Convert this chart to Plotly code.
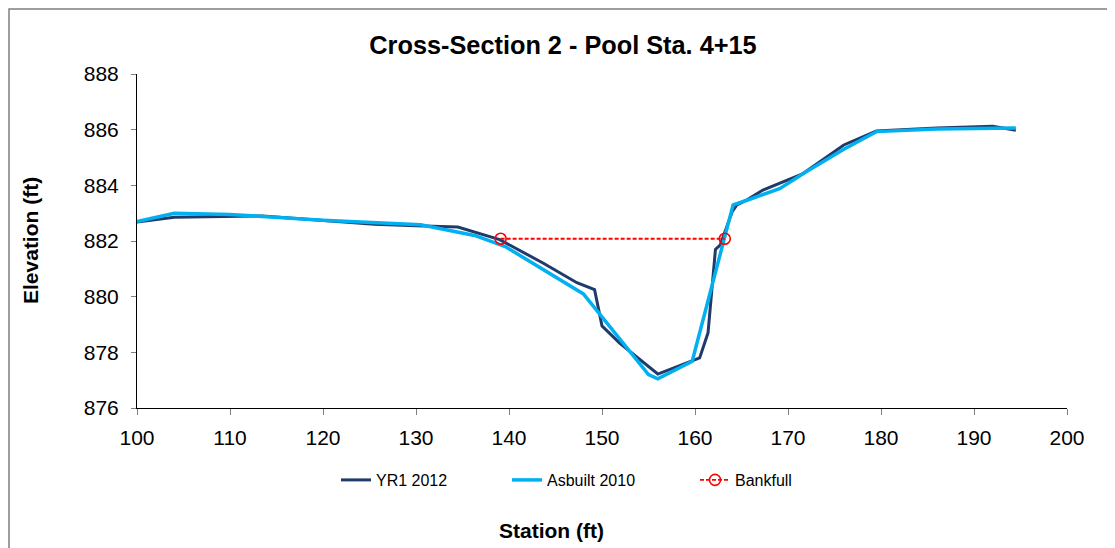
import plotly.graph_objects as go

# station (ft) / elevation (ft)
yr1_station = [100.0, 104.0, 113.5, 125.5, 130.0, 134.5, 139.0, 143.7, 147.3, 149.2,
               150.0, 151.9, 156.0, 160.5, 161.4, 162.2, 162.7, 164.0, 164.5, 165.6,
               167.3, 171.5, 176.0, 179.5, 186.0, 192.0, 194.5]
yr1_elev = [882.68, 882.85, 882.9, 882.6, 882.55, 882.5, 882.05, 881.2, 880.5, 880.25,
            878.95, 878.33, 877.22, 877.8, 878.7, 881.7, 881.85, 883.05, 883.3, 883.48,
            883.83, 884.4, 885.45, 885.95, 886.06, 886.12, 885.98]

asb_station = [100.0, 104.0, 110.0, 120.0, 130.5, 136.3, 139.6, 144.1, 148.0, 155.0,
               156.0, 159.7, 164.1, 165.9, 169.1, 172.0, 176.0, 179.5, 186.0, 194.5]
asb_elev = [882.7, 883.0, 882.95, 882.75, 882.58, 882.2, 881.8, 880.88, 880.1, 877.2,
            877.05, 877.68, 883.3, 883.5, 883.88, 884.5, 885.3, 885.93, 886.02, 886.06]

bankfull_station = [139.1, 163.2]
bankfull_elev = [882.08, 882.08]

# page body has an 8px margin, so the figure is drawn 8px smaller
W, H = 1107, 540
L, T, PW, PH = 129, 66, 930, 334

fig = go.Figure()

fig.add_trace(go.Scatter(
    x=yr1_station, y=yr1_elev, name='YR1 2012', mode='lines',
    line=dict(color='#1F3B6B', width=3), legend='legend', showlegend=True
))
fig.add_trace(go.Scatter(
    x=asb_station, y=asb_elev, name='Asbuilt 2010', mode='lines',
    line=dict(color='#00B0F0', width=3.5), legend='legend2', showlegend=True
))
fig.add_trace(go.Scatter(
    x=bankfull_station, y=bankfull_elev, name='Bankfull', mode='lines+markers',
    line=dict(color='#FF0000', width=1.8, dash='4px,2px'),
    marker=dict(symbol='circle-open', size=11, color='#FF0000', line=dict(width=1.6)),
    legend='legend3', showlegend=True
))

axis_font = dict(family='Liberation Sans, Arial', size=21, color='black')

fig.update_xaxes(
    range=[100, 200], dtick=10, showgrid=False, zeroline=False,
    showline=True, linecolor='black', linewidth=1,
    ticks='outside', ticklen=6, tickcolor='#808080', tickwidth=1,
    tickfont=axis_font, ticklabelstandoff=5
)
fig.update_yaxes(
    range=[876, 888], dtick=2, showgrid=False, zeroline=False,
    showline=True, linecolor='black', linewidth=1,
    ticks='outside', ticklen=5, tickcolor='#808080', tickwidth=1,
    tickfont=axis_font, ticklabelstandoff=8
)


def px(x):
    return (x - 8 - L) / PW


def py(y):
    return (T + PH - (y - 8)) / PH


def leg(x_text):
    return dict(
        orientation='h', x=px(x_text - 40), xanchor='left', y=py(480), yanchor='middle',
        font=dict(family='Liberation Sans, Arial', size=16, color='black'),
        bgcolor='rgba(0,0,0,0)'
    )


fig.update_layout(
    width=W, height=H,
    margin=dict(l=L, r=W - L - PW, t=T, b=H - T - PH),
    paper_bgcolor='white', plot_bgcolor='white',
    showlegend=True,
    title=dict(
        text='<b>Cross-Section 2 - Pool Sta. 4+15</b>',
        font=dict(family='Liberation Sans, Arial', size=25.3, color='black'),
        x=(563 - 8) / W, xanchor='center', y=1 - (45 - 8) / H, yanchor='middle'
    ),
    legend=leg(376),
    legend2=leg(547),
    legend3=leg(735),
    annotations=[
        dict(text='<b>Station (ft)</b>', xref='paper', yref='paper',
             x=px(551), y=py(530), showarrow=False,
             xanchor='center', yanchor='middle',
             font=dict(family='Liberation Sans, Arial', size=21, color='black')),
        dict(text='<b>Elevation (ft)</b>', xref='paper', yref='paper',
             x=px(30), y=py(241), showarrow=False, textangle=-90,
             xanchor='center', yanchor='middle',
             font=dict(family='Liberation Sans, Arial', size=21, color='black')),
    ],
    shapes=[
        dict(type='rect', xref='paper', yref='paper',
             x0=px(9), x1=px(1130), y0=py(560), y1=py(9),
             line=dict(color='#7F7F7F', width=1.5), fillcolor='rgba(0,0,0,0)', layer='below')
    ]
)

fig.write_html("out.html")
